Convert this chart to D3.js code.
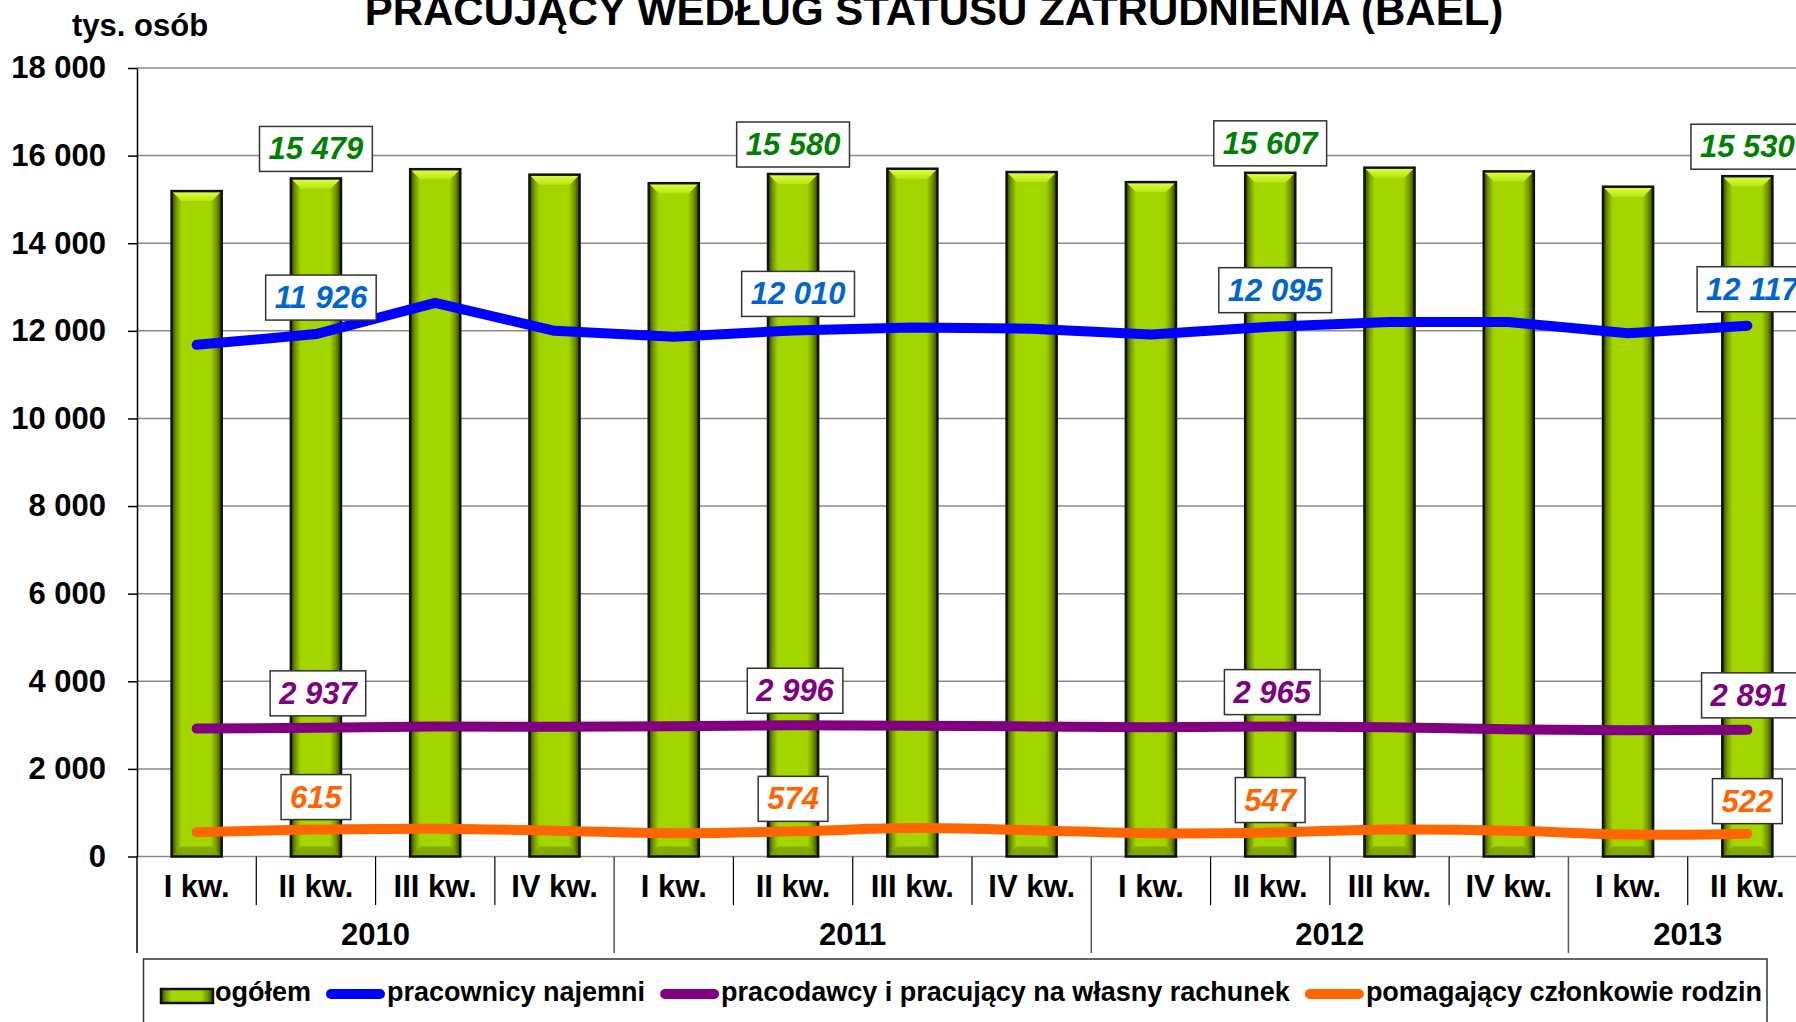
<!DOCTYPE html>
<html>
<head>
<meta charset="utf-8">
<script src="https://cdn.jsdelivr.net/npm/d3@7"></script>
<style>
  html, body { margin: 0; padding: 0; background: #fff; }
  svg { display: block; font-family: 'Liberation Sans', Arial, sans-serif; }
</style>
</head>
<body>
<svg id="chart" width="1796" height="1022"></svg>
<script>
var years = ['2010', '2011', '2012', '2013']
var quartersPerYear = [4, 4, 4, 2]
var quarterNames = ['I kw.', 'II kw.', 'III kw.', 'IV kw.']
var yTicks = [0, 2000, 4000, 6000, 8000, 10000, 12000, 14000, 16000, 18000]

// tys. osób, kolejne kwartały od I kw. 2010 do II kw. 2013
var ogolem = [15190, 15479, 15690, 15565, 15370, 15580, 15700, 15625, 15395, 15607, 15725, 15640, 15290, 15530]
var najemni = [11680, 11926, 12640, 12000, 11866, 12010, 12074, 12048, 11916, 12095, 12204, 12200, 11943, 12117]
var pracodawcy = [2920, 2937, 2970, 2960, 2975, 2996, 2985, 2970, 2950, 2965, 2950, 2905, 2880, 2891]
var pomagajacy = [555, 615, 635, 590, 530, 574, 648, 600, 530, 547, 615, 590, 500, 522]
var labelled = [1, 5, 9, 13]

var title = 'PRACUJĄCY WEDŁUG STATUSU ZATRUDNIENIA (BAEL)'
var unit = 'tys. osób'

;(function () {
  'use strict'

  var svg = d3.select('#chart')
  var left = 137
  var right = 1807
  var top = 68
  var bottom = 856.5

  var periods = []
  years.forEach(function (yr, yi) {
    for (var q = 0; q < quartersPerYear[yi]; q++) {
      periods.push({ key: yr + '-' + q, quarter: quarterNames[q], year: yr, yi: yi })
    }
  })
  var keys = periods.map(function (p) { return p.key })

  var x = d3.scaleBand().domain(keys).range([left, right]).paddingInner(0.58).paddingOuter(0.29)
  var y = d3.scaleLinear().domain([0, 18000]).range([bottom, top])
  var bw = x.bandwidth()
  function cx (i) { return x(keys[i]) + bw / 2 }
  function boundary (i) { return left + i * x.step() }

  var fmt = d3.formatLocale({ decimal: ',', thousands: ' ', grouping: [3], currency: ['', ''] }).format(',d')

  var defs = svg.append('defs')
  var body = defs.append('linearGradient').attr('id', 'barBody')
  ;[['0%', '#2f3f00'], ['9%', '#6f9400'], ['20%', '#a3d600'], ['78%', '#a3d600'], ['90%', '#6f9400'], ['100%', '#2f3f00']]
    .forEach(function (s) { body.append('stop').attr('offset', s[0]).attr('stop-color', s[1]) })
  var topG = defs.append('linearGradient').attr('id', 'barTop').attr('x1', 0).attr('y1', 0).attr('x2', 0).attr('y2', 1)
  topG.append('stop').attr('offset', '0%').attr('stop-color', '#e2ff4a')
  topG.append('stop').attr('offset', '100%').attr('stop-color', '#b6e612')

  // title and unit
  svg.append('text').attr('x', 934).attr('y', 25).attr('text-anchor', 'middle')
    .style('font-size', '42px').style('font-weight', 'bold').text(title)
  svg.append('text').attr('x', 72).attr('y', 36)
    .style('font-size', '31px').style('font-weight', 'bold').text(unit)

  // gridlines
  svg.append('g').selectAll('line').data(yTicks).enter().append('line')
    .attr('x1', left).attr('x2', right)
    .attr('y1', function (d) { return y(d) }).attr('y2', function (d) { return y(d) })
    .attr('stroke', '#8a8a8a').attr('stroke-width', 1.5)

  // bars
  var bars = svg.append('g').selectAll('g').data(ogolem).enter().append('g')
  var bev = 10
  bars.each(function (v, i) {
    var g = d3.select(this)
    var x0 = x(keys[i])
    var y0 = y(v)
    var h = bottom - y0
    g.append('rect').attr('x', x0).attr('y', y0).attr('width', bw).attr('height', h).attr('fill', 'url(#barBody)')
    g.append('polygon').attr('points', [
      [x0, y0], [x0 + bw, y0], [x0 + bw - bev, y0 + bev], [x0 + bev, y0 + bev]
    ].join(' ')).attr('fill', 'url(#barTop)')
    g.append('polygon').attr('points', [
      [x0, bottom], [x0 + bw, bottom], [x0 + bw - bev, bottom - bev], [x0 + bev, bottom - bev]
    ].join(' ')).attr('fill', '#7c9e00').attr('opacity', 0.8)
    g.append('rect').attr('x', x0).attr('y', y0).attr('width', bw).attr('height', h)
      .attr('fill', 'none').attr('stroke', '#111').attr('stroke-width', 2.5)
  })

  // y axis
  var yAxis = svg.append('g').attr('transform', 'translate(' + left + ',0)')
    .call(d3.axisLeft(y).tickValues(yTicks).tickFormat(fmt).tickSize(9).tickSizeOuter(0).tickPadding(22))
  yAxis.select('.domain').attr('stroke', '#000').attr('stroke-width', 1.5)
  yAxis.selectAll('.tick line').attr('stroke', '#000').attr('stroke-width', 1.5)
  yAxis.selectAll('.tick text').style('font-size', '31px').style('font-weight', 'bold')
    .style('font-family', "'Liberation Sans', Arial, sans-serif").attr('fill', '#000')

  // x axis: quarters, separators, years
  var xAxis = svg.append('g').attr('transform', 'translate(0,' + bottom + ')')
    .call(d3.axisBottom(x).tickSize(0).tickPadding(18).tickFormat(function (k, i) { return periods[i].quarter }))
  xAxis.select('.domain').remove()
  xAxis.selectAll('.tick text').style('font-size', '31px').style('font-weight', 'bold')
    .style('font-family', "'Liberation Sans', Arial, sans-serif").attr('fill', '#000')

  var yearStarts = [0]
  quartersPerYear.forEach(function (n, i) { yearStarts.push(yearStarts[i] + n) })
  var sep = svg.append('g')
  for (var i = 1; i < keys.length; i++) {
    var isYear = yearStarts.indexOf(i) >= 0
    sep.append('line').attr('x1', boundary(i)).attr('x2', boundary(i))
      .attr('y1', bottom).attr('y2', isYear ? 953 : 905)
      .attr('stroke', isYear ? '#555' : '#000').attr('stroke-width', isYear ? 1.5 : 1.2)
  }
  sep.append('line').attr('x1', left).attr('x2', left).attr('y1', bottom).attr('y2', 953)
    .attr('stroke', '#000').attr('stroke-width', 1.5)

  svg.append('g').selectAll('text').data(years).enter().append('text')
    .attr('x', function (d, i) { return (boundary(yearStarts[i]) + boundary(yearStarts[i + 1])) / 2 })
    .attr('y', 945).attr('text-anchor', 'middle')
    .style('font-size', '31px').style('font-weight', 'bold').text(function (d) { return d })

  // lines
  var series = [
    { name: 'pracownicy najemni', values: najemni, color: '#0000ff', text: '#0066cc', curve: d3.curveLinear },
    { name: 'pracodawcy i pracujący na własny rachunek', values: pracodawcy, color: '#800080', text: '#800080', curve: d3.curveLinear },
    { name: 'pomagający członkowie rodzin', values: pomagajacy, color: '#ff6600', text: '#ff6600', curve: d3.curveCatmullRom.alpha(0.5) }
  ]

  series.forEach(function (s) {
    var line = d3.line().x(function (d, i) { return cx(i) }).y(function (d) { return y(d) }).curve(s.curve)
    svg.append('path').datum(s.values).attr('d', line).attr('fill', 'none')
      .attr('stroke', s.color).attr('stroke-width', 10)
      .attr('stroke-linecap', 'round').attr('stroke-linejoin', 'round')
  })

  // data labels
  function label (i, v, color, gap, dx) {
    var g = svg.append('g')
    var t = g.append('text').attr('x', cx(i) + dx).attr('text-anchor', 'middle')
      .style('font-size', '31px').style('font-weight', 'bold').style('font-style', 'italic')
      .attr('fill', color).text(fmt(v))
    var w = t.node().getComputedTextLength() + 18
    var yb = y(v) - gap
    t.attr('y', yb - 12)
    g.insert('rect', 'text').attr('x', cx(i) + dx - w / 2).attr('y', yb - 45).attr('width', w).attr('height', 45)
      .attr('fill', '#fff').attr('stroke', '#333').attr('stroke-width', 1.5)
  }

  labelled.forEach(function (i) {
    label(i, ogolem[i], '#008000', 7, 0)
    label(i, najemni[i], series[0].text, 14, 5)
    label(i, pracodawcy[i], series[1].text, 12, 2)
    label(i, pomagajacy[i], series[2].text, 10, 0)
  })

  // legend
  var legend = svg.append('g')
  legend.append('rect').attr('x', 143.5).attr('y', 959).attr('width', 1623.5).attr('height', 80)
    .attr('fill', '#fff').attr('stroke', '#333').attr('stroke-width', 1.5)
  var items = [{ name: 'ogółem', bar: true }].concat(series)
  var lx = 161
  items.forEach(function (it) {
    if (it.bar) {
      legend.append('rect').attr('x', lx).attr('y', 989).attr('width', 52).attr('height', 14)
        .attr('fill', 'url(#barBody)').attr('stroke', '#111').attr('stroke-width', 2.5)
      lx += 54
    } else {
      legend.append('line').attr('x1', lx + 5).attr('x2', lx + 54).attr('y1', 994).attr('y2', 994)
        .attr('stroke', it.color).attr('stroke-width', 10).attr('stroke-linecap', 'round')
      lx += 61
    }
    var t = legend.append('text').attr('x', lx).attr('y', 1001)
      .style('font-size', '27px').style('font-weight', 'bold').text(it.name)
    lx += t.node().getComputedTextLength() + 15
  })
})()
</script>
</body>
</html>
